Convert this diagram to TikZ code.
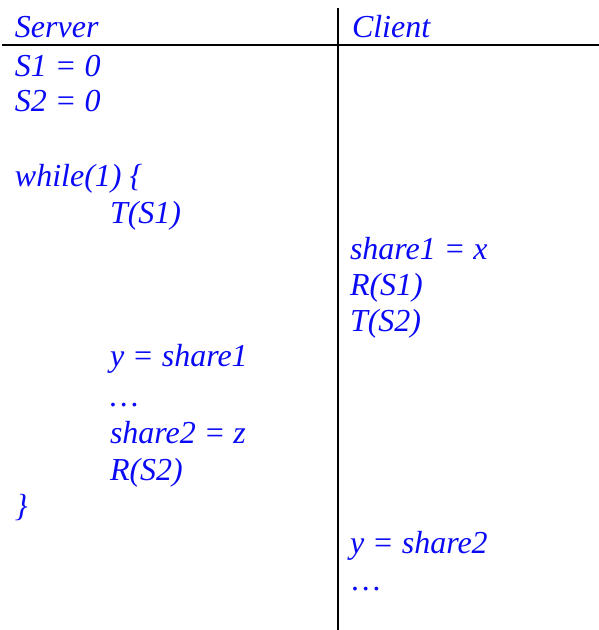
\documentclass[tikz,border=0pt]{standalone}
\usepackage{fontspec}
\setmainfont{Liberation Serif}
\definecolor{codeblue}{RGB}{10,10,245}
\tikzset{
  codeline/.style={anchor=base west, inner sep=0pt, outer sep=0pt,
    font=\fontsize{32}{37}\selectfont\itshape, text=codeblue},
  rule/.style={line width=2pt, black}
}
\begin{document}
\begin{tikzpicture}[x=1pt,y=1pt]
\useasboundingbox (0,0) rectangle (599,-630);
% rules
\coordinate (hl) at (2,-44.5);
\coordinate (hr) at (599,-44.5);
\coordinate (vt) at (338,-8);
\coordinate (vb) at (338,-630);
\draw[rule] (hl) -- (hr);
\draw[rule] (vt) -- (vb);
% headers
\node[codeline] (server) at (15,-37) {Server};
\node[codeline] (client) at (352,-37) {Client};
% server column
\node[codeline] (s1) at (15,-76) {S1 = 0};
\node[codeline] (s2) at (15,-111) {S2 = 0};
\node[codeline] (wh) at (15,-186) {while(1) \{};
\node[codeline] (ts1) at (110,-223) {T(S1)};
\node[codeline] (ysh) at (110,-366) {y = share1};
\node[codeline] (dots1) at (110,-406) {…};
\node[codeline] (sh2) at (110,-443) {share2 = z};
\node[codeline] (rs2) at (110,-480) {R(S2)};
\node[codeline] (close) at (15,-516) {\}};
% client column
\node[codeline] (sh1) at (350,-259) {share1 = x};
\node[codeline] (rs1) at (350,-295) {R(S1)};
\node[codeline] (ts2) at (350,-331) {T(S2)};
\node[codeline] (ysh2) at (350,-553) {y = share2};
\node[codeline] (dots2) at (352,-590) {…};
\end{tikzpicture}
\end{document}
